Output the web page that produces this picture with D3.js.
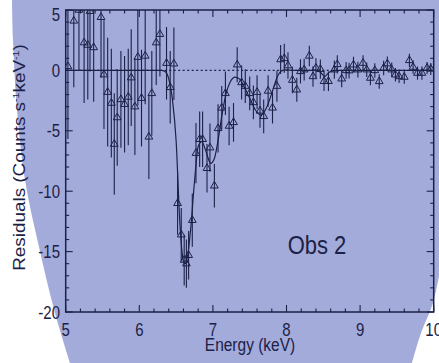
<!DOCTYPE html>
<html><head><meta charset="utf-8">
<script src="https://cdn.jsdelivr.net/npm/d3@7"></script>
<style>html,body{margin:0;padding:0;background:#fff;overflow:hidden}</style>
</head><body><svg id="c" width="439" height="363"></svg>
<script>
// ---- data ----
const energy = [5.03,5.11,5.18,5.25,5.30,5.33,5.38,5.48,5.52,5.57,5.62,5.66,5.70,5.75,5.80,5.85,5.89,5.94,5.98,6.03,6.08,6.13,6.17,6.23,6.28,6.37,6.42,6.47,
  6.52,6.57,6.61,6.64,6.67,6.72,6.77,6.82,6.86,6.92,6.96,7.02,7.07,7.12,7.17,7.22,7.28,
  7.33,7.39,7.44,7.50,7.55,7.60,7.64,7.69,7.75,7.81,7.87,7.92,7.97,8.02,8.08,8.14,8.19,8.24,8.31,8.36,8.40,8.46,8.51,8.57,8.65,8.69,
  8.75,8.81,8.85,8.91,8.97,9.04,9.09,9.14,9.20,9.26,9.32,9.37,9.43,9.48,9.53,9.60,9.67,9.72,9.78,9.84,9.91,9.96];
const residual = [0.33,4.1,5.0,2.3,2.1,4.9,1.9,4.4,-0.35,-1.8,-2.7,-6.1,-3.9,-2.4,-2.8,-2.2,-0.6,-3.0,1.1,-2.3,1.2,-5.5,-1.9,2.3,3.0,0.6,-1.4,0.55,
  -11.0,-13.6,-15.7,-16.0,-15.3,-12.4,-6.85,-5.7,-5.7,-8.1,-6.4,-9.55,-4.8,-3.1,-1.9,-4.6,-4.3,
  0.47,-1.0,-1.3,-1.9,-2.65,-1.8,-3.35,-3.8,-1.7,-3.1,-1.3,0.9,1.0,0.4,-0.8,-1.6,-0.08,0.06,1.2,-0.5,0.2,0.1,-0.9,-0.9,0.06,0.5,
  -0.69,0.0,-0.02,0.47,0.06,0.61,0.06,-0.63,0.0,-0.91,0.2,0.56,0.06,-0.36,-0.5,-0.55,0.83,0.28,-0.22,-0.22,0.2,0.12];
const errorBar = [6.0,5.5,5.0,5.0,4.5,5.0,4.5,5.0,4.5,4.5,4.5,4.2,4.0,4.0,4.0,4.0,4.0,4.0,4.0,4.0,4.0,3.5,3.5,3.5,3.5,3.0,3.0,3.0,
  2.6,2.2,2.1,2.0,2.0,2.2,2.5,2.3,2.3,2.0,2.0,1.8,2.0,1.8,1.8,1.6,1.6,
  1.45,1.4,1.4,1.4,1.4,1.4,1.4,1.4,1.3,1.3,1.3,1.2,1.2,1.1,1.1,1.0,1.0,0.9,0.85,0.85,0.8,0.8,0.8,0.8,0.75,0.75,
  0.7,0.7,0.65,0.65,0.65,0.65,0.6,0.6,0.6,0.6,0.6,0.6,0.6,0.55,0.55,0.55,0.55,0.55,0.55,0.55,0.5,0.5];
const modelEnergy = [5.0,6.30,6.35,6.40,6.45,6.50,6.55,6.60,6.63,6.66,6.70,6.75,6.80,6.85,6.90,6.97,7.02,7.07,7.12,7.18,7.24,7.30,7.36,7.42,7.50,7.58,7.65,7.72,7.80,7.87,7.93,8.00,8.10,8.40,8.46,8.52,8.58,8.66,10.0];
const modelResidual = [0,0,-0.1,-0.7,-2.4,-5.8,-12.5,-15.8,-16.0,-15.2,-13.0,-9.2,-6.3,-5.9,-6.6,-7.7,-7.3,-5.8,-3.8,-1.9,-0.9,-0.55,-0.7,-1.3,-2.3,-3.3,-3.7,-3.2,-1.9,-0.6,-0.05,0.05,0,0,-0.15,-0.5,-0.15,0,0];
const xTickLabels = [5,6,7,8,9,10];
const yTickLabels = [5,0,-5,-10,-15,-20];

// ---- style ----
const navy = "#1c2147";
const blue = "#a3abdb";
const svg = d3.select("#c");
const x = d3.scaleLinear().domain([5,10]).range([65.7,433.7]);
const y = d3.scaleLinear().domain([-20,5]).range([312,10]);
const SY = 1.18;

// background blob
const leftEdge = [[70,363],[55,313],[39,247],[25,180],[17,110],[13,40],[12,0]];
const rightEdge = [[439,276],[433,303],[421,333],[412,363]];
const lg = d3.line().curve(d3.curveCatmullRom);
svg.append("path")
  .attr("d", lg(leftEdge) + "L439,0" + lg(rightEdge).replace(/^M/,"L") + "Z")
  .attr("fill", blue);

// clip
svg.append("clipPath").attr("id","pc").append("rect")
  .attr("x", x(5)).attr("y", y(5)).attr("width", x(10)-x(5)).attr("height", y(-20)-y(5));

const g = svg.append("g").attr("clip-path","url(#pc)");

// zero dotted line
g.append("line").attr("x1", x(5)).attr("x2", x(10)).attr("y1", y(0)).attr("y2", y(0))
  .attr("stroke", navy).attr("stroke-width", 1.1).attr("stroke-dasharray", "2,2.5");

// model
const model = modelEnergy.map((e,i)=>[e, modelResidual[i]]);
g.append("path").attr("d", d3.line().x(d=>x(d[0])).y(d=>y(d[1])).curve(d3.curveMonotoneX)(model))
  .attr("fill","none").attr("stroke", navy).attr("stroke-width", 1.2);

// error bars
const pts = energy.map((e,i)=>({e, r: residual[i], s: errorBar[i]}));
g.selectAll("line.err").data(pts).enter().append("line").attr("class","err")
  .attr("x1", d=>x(d.e)).attr("x2", d=>x(d.e))
  .attr("y1", d=>y(d.r + d.s)).attr("y2", d=>y(d.r - d.s))
  .attr("stroke", navy).attr("stroke-width", 1.1);

// triangles
const tri = d3.symbol().type(d3.symbolTriangle).size(26);
g.selectAll("path.pt").data(pts).enter().append("path").attr("class","pt")
  .attr("d", tri)
  .attr("transform", d=>`translate(${x(d.e)},${y(d.r)})`)
  .attr("fill", "none").attr("stroke", navy).attr("stroke-width", 1);

// frame
svg.append("rect").attr("x", x(5)).attr("y", y(5)).attr("width", x(10)-x(5)).attr("height", y(-20)-y(5))
  .attr("fill","none").attr("stroke", navy).attr("stroke-width", 1.5);

// ticks
const ax = svg.append("g").attr("stroke", navy).attr("stroke-width", 1.1);
d3.range(50,101,2).forEach(v=>{
  const e = v/10, major = v % 10 === 0, L = major ? 7 : 3.5;
  ax.append("line").attr("x1",x(e)).attr("x2",x(e)).attr("y1",y(-20)).attr("y2",y(-20)-L);
  ax.append("line").attr("x1",x(e)).attr("x2",x(e)).attr("y1",y(5)).attr("y2",y(5)+L);
});
d3.range(-20,6,1).forEach(v=>{
  const major = v % 5 === 0, L = major ? 7 : 3.5;
  ax.append("line").attr("x1",x(5)).attr("x2",x(5)+L).attr("y1",y(v)).attr("y2",y(v));
  ax.append("line").attr("x1",x(10)).attr("x2",x(10)-L).attr("y1",y(v)).attr("y2",y(v));
});

// labels
const font = "'Liberation Sans', Arial, Helvetica, sans-serif";
function txt(px, py, s, size, anchor){
  return svg.append("text").attr("transform", `translate(${px},${py}) scale(1,${SY})`)
    .attr("text-anchor", anchor).attr("font-family", font).attr("font-size", size)
    .attr("fill", navy).text(s);
}
xTickLabels.forEach(v=> txt(x(v), 335.5, String(v), 15, "middle"));
yTickLabels.forEach(v=> txt(60, v===5 ? 21 : y(v)+6.5, String(v), 15, "end"));
txt(250, 351, "Energy (keV)", 15.5, "middle");
txt(317, 253.5, "Obs 2", 22, "middle");

const yl = svg.append("text").attr("transform", `translate(25,157.5) rotate(-90) scale(${SY},1)`)
  .attr("text-anchor","middle").attr("font-family", font).attr("font-size", 16).attr("fill", navy);
yl.append("tspan").text("Residuals (Counts s");
yl.append("tspan").attr("font-size", 9).attr("dy", -6).text("-1");
yl.append("tspan").attr("dy", 6).text("keV");
yl.append("tspan").attr("font-size", 9).attr("dy", -6).text("-1");
yl.append("tspan").attr("dy", 6).text(")");
</script>
</body></html>
